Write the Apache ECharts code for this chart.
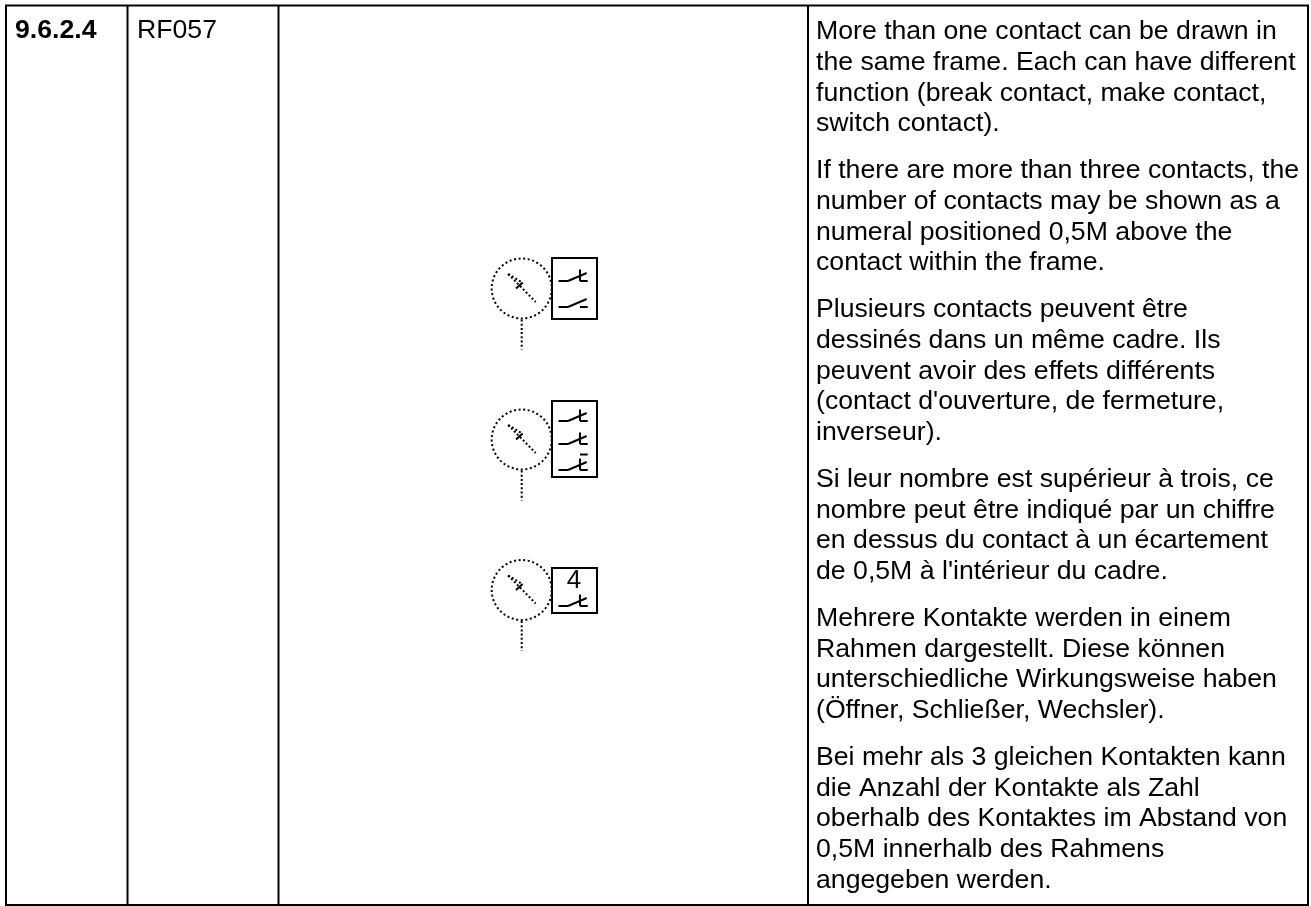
<!DOCTYPE html>
<html><head><meta charset="utf-8">
<style>html,body{margin:0;padding:0;background:#fff}#c{width:1311px;height:906px}</style>
<script src="https://cdn.jsdelivr.net/npm/echarts@6/dist/echarts.min.js"></script>
</head><body><div id="c"></div>
<script>
const sectionNumber = ['9.6.2.4'];
const sectionCode = ['RF057'];
const description = [
 ['More than one contact can be drawn in',41],['the same frame. Each can have different',72],['function (break contact, make contact,',103],['switch contact).',133],
 ['If there are more than three contacts, the',180],['number of contacts may be shown as a',211],['numeral positioned 0,5M above the',242],['contact within the frame.',272],
 ['Plusieurs contacts peuvent être',319],['dessinés dans un même cadre. Ils',350],['peuvent avoir des effets différents',381],["(contact d'ouverture, de fermeture,",411],['inverseur).',442],
 ['Si leur nombre est supérieur à trois, ce',489],['nombre peut être indiqué par un chiffre',520],['en dessus du contact à un écartement',550],["de 0,5M à l'intérieur du cadre.",581],
 ['Mehrere Kontakte werden in einem',628],['Rahmen dargestellt. Diese können',659],['unterschiedliche Wirkungsweise haben',689],['(Öffner, Schließer, Wechsler).',720],
 ['Bei mehr als 3 gleichen Kontakten kann',767],['die Anzahl der Kontakte als Zahl',798],['oberhalb des Kontaktes im Abstand von',828],['0,5M innerhalb des Rahmens',859],['angegeben werden.',890]
];
const tableRules = [[5,5.5,1309,5.5],[5,905,1309,905],[6,5,6,906],[127.5,5,127.5,906],[278.5,5,278.5,906],[808,5,808,906],[1308,5,1308,906]];
const dialCentres = [[521.7,288.5],[521.7,439.5],[521.7,590]];
const dialRadius = [30];
const frames = [[552,258,597,319],[552,401,597,477],[552,568,597,613]];
const breakContacts = [281,421,444,470,606];
const makeContacts = [307];
const switchBars = [454.5];
const numeralFour = [['4',574,581]];

const font = 'Liberation Sans';
const bodySize = 26.67;
const solid = (segs,w) => ({type:'custom',coordinateSystem:'cartesian2d',silent:true,data:segs,
  renderItem:(p,api)=>{const a=api.coord([api.value(0),api.value(1)]),b=api.coord([api.value(2),api.value(3)]);
    return {type:'line',shape:{x1:a[0],y1:a[1],x2:b[0],y2:b[1]},style:{stroke:'#000',lineWidth:w,lineCap:'butt'}};}});
const dotted = (segs) => ({type:'custom',coordinateSystem:'cartesian2d',silent:true,data:segs,
  renderItem:(p,api)=>{const a=api.coord([api.value(0),api.value(1)]),b=api.coord([api.value(2),api.value(3)]);
    return {type:'line',shape:{x1:a[0],y1:a[1],x2:b[0],y2:b[1]},style:{stroke:'#000',lineWidth:2,lineDash:[2,2.2]}};}});
const texts = (rows,x,size,weight) => ({type:'custom',coordinateSystem:'cartesian2d',silent:true,
  data:rows.map(r=>[x,r[1]]),
  renderItem:(p,api)=>{const a=api.coord([api.value(0),api.value(1)-size*0.3465]);
    return {type:'text',x:a[0],y:a[1],style:{text:rows[p.dataIndexInside][0],fill:'#000',font:`${weight} ${size}px "${font}"`,textAlign:'left',textVerticalAlign:'middle'}};}});

const frameSegs=[],contactSegs=[],dotSegs=[],circles=[];
frames.forEach(f=>{frameSegs.push([f[0],f[1]-1,f[0],f[3]+1],[f[2],f[1]-1,f[2],f[3]+1],[f[0],f[1],f[2],f[1]],[f[0],f[3],f[2],f[3]]);});
breakContacts.forEach(y=>{contactSegs.push([558.5,y,568,y],[568,y,586.7,y-8],[580,y-11.5,580,y],[580,y,587.7,y]);});
makeContacts.forEach(y=>{contactSegs.push([558.5,y,568,y],[568,y,586.7,y-8],[580,y,587.7,y]);});
switchBars.forEach(y=>{contactSegs.push([580,y,587.7,y]);});
dialCentres.forEach(c=>{
  const x=c[0],y=c[1];
  dotSegs.push([x-13.5,y-14.5,x+14,y+13.5],[x-13.5,y-14.5,x+0.5,y-6],[x,y+31,x,y+61]);
  contactSegs.push([x-5.7,y,x+1,y-6]);
  circles.push([x,y,dialRadius[0]]);
});
const circleSeries={type:'custom',coordinateSystem:'cartesian2d',silent:true,data:circles,
  renderItem:(p,api)=>{const a=api.coord([api.value(0),api.value(1)]);
    return {type:'circle',shape:{cx:a[0],cy:a[1],r:api.value(2)},style:{fill:'none',stroke:'#000',lineWidth:2,lineDash:[2,2.6]}};}};

const chart=echarts.init(document.getElementById('c'),null,{renderer:'canvas'});
chart.setOption({animation:false,backgroundColor:'#fff',
  grid:{left:0,right:0,top:0,bottom:0},
  xAxis:{type:'value',min:0,max:1311,show:false},
  yAxis:{type:'value',min:0,max:906,inverse:true,show:false},
  series:[
    solid(tableRules,2),solid(frameSegs,2),solid(contactSegs,2),dotted(dotSegs),circleSeries,
    texts([[sectionNumber[0],40]],15,bodySize,'bold'),
    texts([[sectionCode[0],40]],137,bodySize,'normal'),
    texts(description,816,bodySize,'normal'),
    {type:'custom',coordinateSystem:'cartesian2d',silent:true,data:numeralFour.map(n=>[n[1],n[2]]),
     renderItem:(p,api)=>{const a=api.coord([api.value(0),api.value(1)]);
       return {type:'text',x:a[0],y:a[1],style:{text:numeralFour[p.dataIndexInside][0],fill:'#000',font:`26px "${font}"`,textAlign:'center',textVerticalAlign:'middle'}};}}
  ]});
</script></body></html>
